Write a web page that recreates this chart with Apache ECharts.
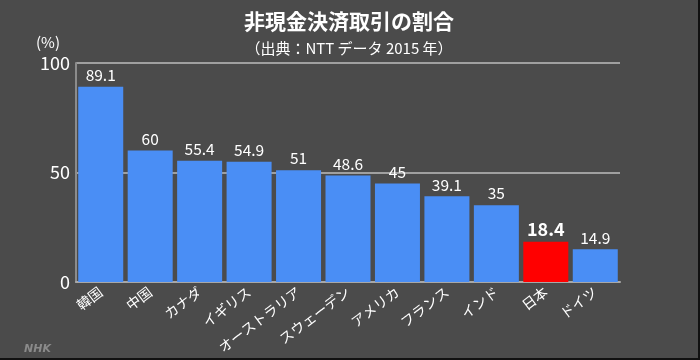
<!DOCTYPE html>
<html><head><meta charset="utf-8">
<script src="https://cdn.jsdelivr.net/npm/echarts@6/dist/echarts.min.js"></script>
<style>
html,body{margin:0;padding:0;background:#000;}
#c{width:698px;height:358px;background:#4b4b4b;border-right:2px solid #111;border-bottom:2px solid #111;}
</style></head><body>
<div id="c"></div>
<script>
var categories = ['韓国','中国','カナダ','イギリス','オーストラリア','スウェーデン','アメリカ','フランス','インド','日本','ドイツ'];
var values = [89.1, 60, 55.4, 54.9, 51, 48.6, 45, 39.1, 35, 18.4, 14.9];
var highlight = '日本';
var yTicks = [0, 50, 100];

var FONT = '"Noto Sans CJK JP","Noto Sans",sans-serif';
var chart = echarts.init(document.getElementById('c'));
var data = values.map(function(v, i){
  var isH = categories[i] === highlight;
  return {
    value: v,
    itemStyle: {color: isH ? '#ff0000' : '#4a8ef5'},
    label: isH ? {fontWeight: 'bold', fontSize: 18} : {}
  };
});
chart.setOption({
  backgroundColor: '#4b4b4b',
  animation: false,
  textStyle: {fontFamily: FONT},
  title: [{
    text: '非現金決済取引の割合',
    left: 'center', top: 6,
    textStyle: {color: '#fff', fontSize: 21, fontWeight: 'bold', fontFamily: FONT}
  },{
    text: '（出典：NTT データ 2015 年）',
    left: 'center', top: 36,
    textStyle: {color: '#fff', fontSize: 15, fontWeight: 'normal', fontFamily: FONT}
  }],
  graphic: [{
    type: 'text', left: 36, top: 35,
    style: {text: '(%)', fill: '#fff', font: '15px ' + FONT}
  },{
    type: 'text', left: 24, top: 344,
    style: {text: 'NHK', fill: '#8a8a8a', font: 'italic bold 11px "DejaVu Sans",sans-serif'}
  }],
  grid: {left: 76, right: 78, top: 63, bottom: 76, containLabel: false},
  xAxis: {
    type: 'category', data: categories,
    axisLine: {show: true, lineStyle: {color: '#a8a8a8', width: 2}},
    axisTick: {show: false},
    axisLabel: {color: '#fff', fontSize: 14, rotate: 37, interval: 0, margin: 8, fontFamily: FONT}
  },
  yAxis: {
    type: 'value', min: yTicks[0], max: yTicks[yTicks.length-1], interval: yTicks[1]-yTicks[0],
    axisLine: {show: true, lineStyle: {color: '#8c8c8c', width: 2}},
    axisTick: {show: false},
    splitLine: {lineStyle: {color: '#a0a0a0', width: 2}},
    axisLabel: {color: '#fff', fontSize: 18, margin: 6, fontFamily: FONT}
  },
  series: [{
    type: 'bar', data: data, barWidth: 45,
    label: {show: true, position: 'top', color: '#fff', fontSize: 15.5, distance: 4, fontFamily: FONT}
  }]
});
</script></body></html>
